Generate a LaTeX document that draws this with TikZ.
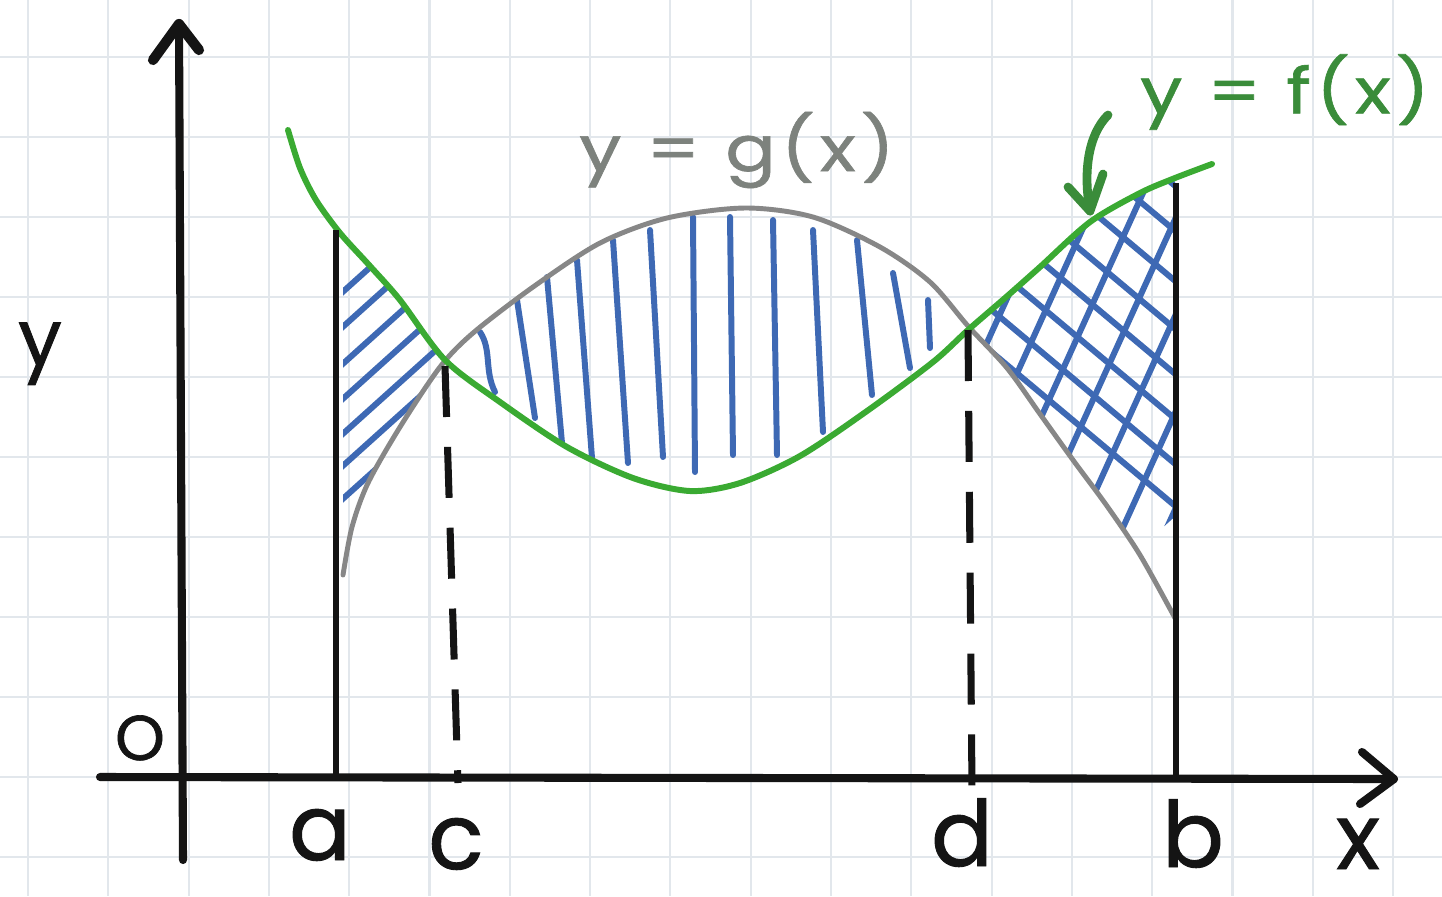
\documentclass[tikz,border=0pt]{standalone}
\usepackage{fontspec}
\newfontfamily\hand{Poppins}[FakeBold=1]
\newfontfamily\handwide{Poppins}[FakeBold=1,FakeStretch=1.18,LetterSpace=8]
\definecolor{fgreen}{RGB}{58,170,50}
\definecolor{lgreen}{RGB}{58,140,58}
\definecolor{ggray}{RGB}{135,135,135}
\definecolor{lgray}{RGB}{125,130,125}
\definecolor{hblue}{RGB}{62,105,180}
\definecolor{gridc}{RGB}{226,231,236}
\definecolor{ink}{RGB}{20,20,20}
\def\fcurve{plot[smooth] coordinates {(288,130) (300,168) (316,200) (340,233) (370,266) (400,300) (445,360) (500,402) (567,447) (633,478) (690,491) (740,483) (800,456) (867,411) (933,362) (968,330) (1005,298) (1040,267) (1090,222) (1140,193) (1175,178) (1212,164)}}
\def\gcurve{plot[smooth] coordinates {(343,575) (352,527) (368,483) (400,427) (440,367) (473,333) (533,287) (600,243) (667,218) (745,208) (813,217) (880,247) (930,282) (968,326) (1007,368) (1040,414) (1073,460) (1107,506) (1140,555) (1175,618)}}
\begin{document}
\begin{tikzpicture}[x=0.01cm,y=-0.01cm,
  gridline/.style={draw=gridc,line width=0.6pt},
  axis/.style={draw=ink,line width=2.3pt,line cap=round,line join=round},
  bound/.style={draw=ink,line width=1.7pt},
  dline/.style={draw=ink,line width=2pt,dash pattern=on 14.5pt off 8.5pt},
  fstyle/.style={draw=fgreen,line width=1.7pt,line cap=round},
  gstyle/.style={draw=ggray,line width=1.4pt,line cap=round},
  hatch/.style={draw=hblue,line width=1.7pt,line cap=round},
  lbl/.style={font=\hand\fontsize{26}{28}\selectfont,text=ink,inner sep=0pt},
  curvelbl/.style={font=\handwide\fontsize{18}{20}\selectfont,inner sep=0pt},
  pointer/.style={draw=lgreen,line width=2.5pt,line cap=round,line join=round}]
\useasboundingbox (0,0) rectangle (1442,896);
\fill[white] (0,0) rectangle (1442,896);
% grid paper
\foreach \k in {0,...,17} \draw[gridline] ({28+80.3*\k},0) -- ({28+80.3*\k},896);
\foreach \k in {0,...,10} \draw[gridline] (0,{57+80*\k}) -- (1442,{57+80*\k});
% named points
\coordinate (O) at (182,777);
\coordinate (Atop) at (336,230);
\coordinate (Abot) at (336,777);
\coordinate (Btop) at (1176,183);
\coordinate (Bbot) at (1176,777);
\coordinate (Ctop) at (445,366);
\coordinate (Cbot) at (458,783);
\coordinate (Dtop) at (968,330);
\coordinate (Dbot) at (972,789);
% hatching a--c
\begin{scope}
  \clip \fcurve -- (1212,900) -- (288,900) -- cycle;
  \clip \gcurve -- (1175,0) -- (343,0) -- cycle;
  \clip (336,0) rectangle (460,896);
  \foreach \y in {298,333,370,405,440,472,505}
    \draw[hatch] (336,\y) -- ++(160,-144);
\end{scope}
% hatching d--b (cross)
\begin{scope}
  \clip \fcurve -- (1212,900) -- (288,900) -- cycle;
  \clip \gcurve -- (1175,0) -- (343,0) -- cycle;
  \clip (960,0) -- (1180,0) -- (1180,512) -- (1140,548) -- (960,548) -- cycle;
  \foreach \y in {190,235,285,333,378,423,468,510}
    \draw[hatch] (1180,\y) -- ++(-260,-218);
  \foreach \x in {870,914,958,1002,1046,1090,1134}
    \draw[hatch] (\x,600) -- ++(200,-440);
\end{scope}
% hatching c--d
\draw[hatch] (480,332) .. controls (492,350) and (484,370) .. (495,392);
\draw[hatch] (517,300) -- (535,418);
\draw[hatch] (547,277) -- (562,443);
\draw[hatch] (577,260) -- (592,458);
\draw[hatch] (613,240) -- (628,463);
\draw[hatch] (650,230) -- (663,457);
\draw[hatch] (693,217) -- (695,472);
\draw[hatch] (730,217) -- (733,455);
\draw[hatch] (773,220) -- (777,455);
\draw[hatch] (813,230) -- (823,432);
\draw[hatch] (857,240) -- (872,395);
\draw[hatch] (893,273) -- (910,368);
\draw[hatch] (928,300) -- (930,348);
% curves
\draw[gstyle] \gcurve;
\draw[fstyle] \fcurve;
% bounds
\draw[bound] (Abot) -- (Atop);
\draw[bound] (Bbot) -- (Btop);
\draw[dline] (Ctop) -- (Cbot);
\draw[dline] (Dtop) -- (Dbot);
% axes
\coordinate (Xl) at (100,777);
\coordinate (Xr) at (1394,779);
\coordinate (Yb) at (183,860);
\coordinate (Yt) at (179,24);
\draw[axis] (Xl) -- (Xr);
\draw[axis] (1362,752) -- (Xr) -- (1360,804);
\draw[axis] (Yb) -- (Yt);
\draw[axis,line width=2.9pt] (153,60) -- (Yt) -- (199,50);
% labels
\node[lbl,anchor=base,font=\hand\fontsize{22}{24}\selectfont] (ylab) at (40,365) {y};
\node[lbl,anchor=base,font=\hand\fontsize{18}{20}\selectfont] (olab) at (140,760) {O};
\node[lbl,anchor=base] (alab) at (320,860) {a};
\node[lbl,anchor=base] (clab) at (456,869) {c};
\node[lbl,anchor=base] (dlab) at (962,866) {d};
\node[lbl,anchor=base] (blab) at (1193,867) {b};
\node[lbl,anchor=base] (xlab) at (1358,869) {x};
\node[curvelbl,text=lgray] (glab) at (737,150) {y = g(x)};
\node[curvelbl,text=lgreen] (flab) at (1285,92) {y = f(x)};
% pointer arrow to f
\coordinate (Ps) at (1108,115);
\coordinate (Pe) at (1090,211);
\draw[pointer] (Ps) .. controls (1088,135) and (1083,172) .. (Pe);
\draw[pointer] (1068,187) -- (Pe) -- (1103,174);
\end{tikzpicture}
\end{document}
